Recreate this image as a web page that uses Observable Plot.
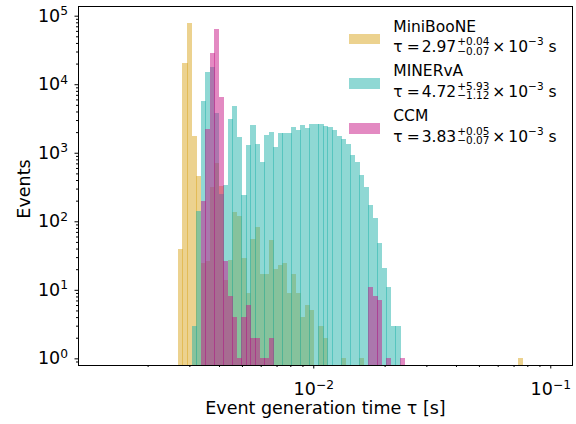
<!DOCTYPE html>
<html>
<head>
<meta charset="utf-8">
<script src="https://cdn.jsdelivr.net/npm/d3@7"></script>
<script src="https://cdn.jsdelivr.net/npm/@observablehq/plot@0.6"></script>
<style>
  html, body { margin: 0; padding: 0; background: #fff; }
  #wrap { position: relative; width: 576px; height: 424px; font-family: "DejaVu Sans", sans-serif; color: #000; }
  .legend .row { position: absolute; left: 349px; }
  .legend .patch { position: absolute; left: 0; top: 16.9px; width: 31px; height: 10.7px; opacity: 0.5; }
  .legend .l1, .legend .l2 { position: absolute; left: 44.3px; white-space: nowrap; font-size: 15.5px; line-height: 20.4px; }
  .legend .l1 { top: 0; }
  .legend .l2 { top: 20.4px; }
  .legend .eq { margin: 0 2px 0 4px; }
  .legend .ss { display: inline-flex; flex-direction: column; font-size: 10.5px; line-height: 9.6px; vertical-align: baseline; position: relative; top: -7px; margin-left: 1px; }
  .legend .times { margin: 0 3px 0 3px; }
  .legend .sup { font-size: 10.5px; position: relative; top: -7px; }
</style>
</head>
<body>
<div id="wrap"></div>
<script>
// ---- data ----
const series = ["MiniBooNE", "MINERvA", "CCM"];
const colors = ["goldenrod", "lightseagreen", "mediumvioletred"];
const tauValues = ["2.97", "4.72", "3.83"];
const tauPlus = ["0.04", "5.93", "0.05"];
const tauMinus = ["0.07", "1.12", "0.07"];

// common logarithmic binning (76 bins)
const logBinMin = -2.5709;
const logBinMax = -1.1182;
const nBins = 76;

const miniboone = [
  40, 20600, 79000, 1755, 458, 25, 26, 317, 708, 330,
  14, 27, 136, 119, 29, 9, 55, 82, 17, 17,
  53, 20, 23, 25, 9, 17, 9, 4, 6, 5,
  0, 3, 2, 0, 0, 0, 1, 0, 0, 0,
  1, 0, 0, 0, 0, 0, 0, 0, 0, 0,
  0, 0, 0, 0, 0, 0, 0, 0, 0, 0,
  0, 0, 0, 0, 0, 0, 0, 0, 0, 0,
  0, 0, 0, 0, 0, 1
];
const minerva = [
  0, 0, 0, 3, 141, 5690, 15100, 17800, 3800, 252,
  338, 3100, 4800, 1700, 242, 1300, 2540, 1340, 733, 1815,
  2010, 1213, 1940, 1940, 1940, 2375, 2150, 2540, 2300, 2630,
  2630, 2630, 2455, 2375, 2150, 1755, 1585, 1340, 929, 733,
  469, 313, 173, 112, 48, 21, 11, 3, 3, 0,
  0, 0, 0, 0, 0, 0, 0, 0, 0, 0,
  0, 0, 0, 0, 0, 0, 0, 0, 0, 0,
  0, 0, 0, 0, 0, 0
];
const ccm = [
  0, 0, 0, 0, 0, 198, 2220, 28700, 64100, 6500,
  26, 8, 4, 1, 4, 6, 2, 2, 1, 1,
  2, 0, 0, 0, 0, 0, 0, 0, 0, 0,
  0, 0, 0, 0, 0, 0, 0, 0, 0, 0,
  0, 0, 11, 8, 7, 0, 1, 0, 0, 1,
  0, 0, 0, 0, 0, 0, 0, 0, 0, 0,
  0, 0, 0, 0, 0, 0, 0, 0, 0, 0,
  0, 0, 0, 0, 0, 0
];

const xMajorTicks = [1e-2, 1e-1];
const yMajorTicks = [1e0, 1e1, 1e2, 1e3, 1e4, 1e5];
const xDomain = [1.017e-3, 0.1235];
const yDomain = [0.8, 1.384e5];
const xLabel = "Event generation time \u03C4 [s]";
const yLabel = "Events";

// ---- build ----
const counts = [miniboone, minerva, ccm];
const edges = d3.range(nBins + 1).map(i => 10 ** (logBinMin + (logBinMax - logBinMin) * i / nBins));
const rows = series.flatMap((name, s) =>
  counts[s].map((c, k) => ({series: name, x1: edges[k], x2: edges[k + 1], count: c})).filter(r => r.count > 0)
);

const minorTicks = (domain, decades) => decades
  .flatMap(d => d3.range(2, 10).map(m => m * d))
  .filter(v => v > domain[0] * 1.001 && v < domain[1]);
const xMinorTicks = minorTicks(xDomain, [1e-3, 1e-2, 1e-1]);
const yMinorTicks = minorTicks(yDomain, [1e-1, 1e0, 1e1, 1e2, 1e3, 1e4, 1e5]);

const fmtPow = d => "10^" + String(Math.round(Math.log10(d))).replace("-", "\u2212");

const chart = Plot.plot({
  width: 576,
  height: 424,
  marginLeft: 78,
  marginRight: 4,
  marginTop: 6,
  marginBottom: 59,
  style: {fontFamily: "\"DejaVu Sans\", sans-serif", fontSize: "17.5px", color: "black", background: "white"},
  x: {type: "log", domain: xDomain},
  y: {type: "log", domain: yDomain},
  color: {domain: series, range: colors},
  marks: [
    Plot.rectY(rows, {x1: "x1", x2: "x2", y1: yDomain[0], y2: "count", fill: "series", fillOpacity: 0.5, insetRight: -0.6, shapeRendering: "crispEdges"}),
    Plot.frame({stroke: "black", strokeWidth: 1}),
    Plot.axisX({ticks: xMajorTicks, tickSize: 3.5, tickPadding: 14, tickFormat: fmtPow, label: null}),
    Plot.axisX({ticks: xMinorTicks, tickSize: 2, tickFormat: () => "", label: null}),
    Plot.axisY({ticks: yMajorTicks, tickSize: 3.5, tickPadding: 7, tickFormat: fmtPow, label: null}),
    Plot.axisY({ticks: yMinorTicks, tickSize: 2, tickFormat: () => "", label: null}),
    Plot.text([xLabel], {frameAnchor: "bottom", dy: 48, text: d => d, fontSize: 17.5}),
    Plot.text([yLabel], {frameAnchor: "left", dx: -54, dy: 3, rotate: -90, textAnchor: "middle", text: d => d, fontSize: 17.5})
  ]
});

// mathtext-like superscripts on tick labels
d3.select(chart).selectAll('g[aria-label$="tick label"] text').each(function () {
  const t = this.textContent;
  if (!t.includes("^")) return;
  const [base, exp] = t.split("^");
  const sel = d3.select(this);
  sel.text(base);
  sel.append("tspan").attr("font-size", "0.7em").attr("dy", "-0.55em").text(exp);
});

const wrap = document.getElementById("wrap");
wrap.appendChild(chart);

// legend
const legend = d3.select(wrap).append("div").attr("class", "legend");
series.forEach((name, i) => {
  const row = legend.append("div").attr("class", "row").style("top", `${16.74 + 44.7 * i}px`);
  row.append("div").attr("class", "patch").style("background", colors[i]);
  row.append("div").attr("class", "l1").text(name);
  const l2 = row.append("div").attr("class", "l2");
  l2.append("span").text("\u03C4");
  l2.append("span").attr("class", "eq").text("=");
  l2.append("span").text(tauValues[i]);
  const ss = l2.append("span").attr("class", "ss");
  ss.append("span").text("+" + tauPlus[i]);
  ss.append("span").text("\u2212" + tauMinus[i]);
  l2.append("span").attr("class", "times").text("\u00D7");
  l2.append("span").text("10");
  l2.append("span").attr("class", "sup").text("\u22123");
  l2.append("span").text(" s");
});
</script>
</body>
</html>
